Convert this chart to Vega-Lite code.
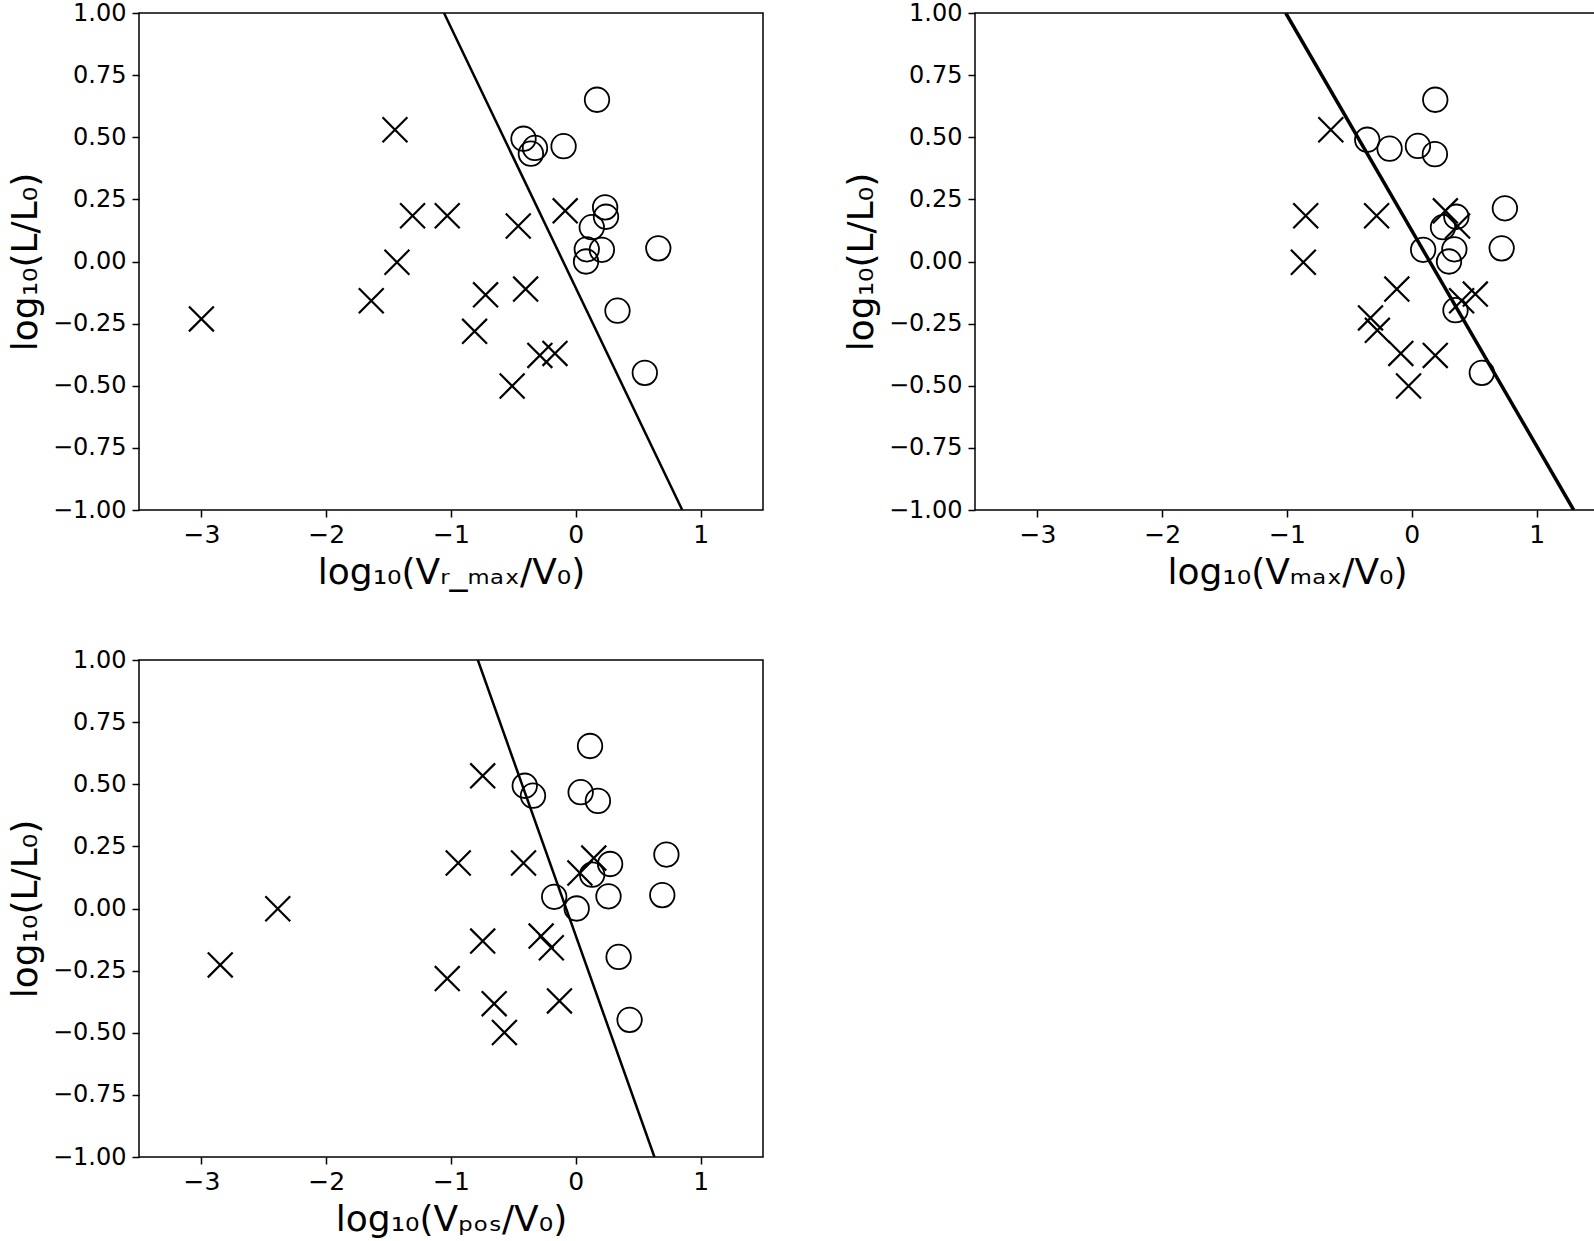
{
  "$schema": "https://vega.github.io/schema/vega-lite/v6.json",
  "padding": {"left": 6, "top": 0, "right": 0, "bottom": 0},
  "background": "white",
  "config": {
    "view": {"stroke": "black", "strokeWidth": 1.5},
    "axis": {
      "labelFont": "DejaVu Sans", "labelFontSize": 25, "labelColor": "black",
      "titleFont": "DejaVu Sans", "titleFontSize": 36, "titleFontWeight": "normal", "titleColor": "black",
      "tickColor": "black", "tickSize": 7, "tickWidth": 1.5, "domain": false, "grid": false, "labelOverlap": false
    },
    "axisX": {"labelPadding": 5, "titlePadding": 8},
    "axisY": {"labelPadding": 6, "titlePadding": 8, "labelFontSize": 24}
  },
  "datasets": {
    "pts": [
      {"p": "A", "t": "x", "x": -3.0, "y": -0.231},
      {"p": "A", "t": "x", "x": -1.449, "y": 0.53},
      {"p": "A", "t": "x", "x": -1.308, "y": 0.184},
      {"p": "A", "t": "x", "x": -1.03, "y": 0.184},
      {"p": "A", "t": "x", "x": -1.433, "y": -0.003},
      {"p": "A", "t": "x", "x": -1.639, "y": -0.158},
      {"p": "A", "t": "x", "x": -0.461, "y": 0.143},
      {"p": "A", "t": "x", "x": -0.723, "y": -0.134},
      {"p": "A", "t": "x", "x": -0.402, "y": -0.111},
      {"p": "A", "t": "x", "x": -0.811, "y": -0.281},
      {"p": "A", "t": "x", "x": -0.288, "y": -0.378},
      {"p": "A", "t": "x", "x": -0.167, "y": -0.37},
      {"p": "A", "t": "x", "x": -0.51, "y": -0.501},
      {"p": "A", "t": "x", "x": -0.085, "y": 0.204},
      {"p": "A", "t": "o", "x": 0.17, "y": 0.651},
      {"p": "A", "t": "o", "x": -0.419, "y": 0.494},
      {"p": "A", "t": "o", "x": -0.327, "y": 0.457},
      {"p": "A", "t": "o", "x": -0.36, "y": 0.434},
      {"p": "A", "t": "o", "x": -0.098, "y": 0.464},
      {"p": "A", "t": "o", "x": 0.235, "y": 0.218},
      {"p": "A", "t": "o", "x": 0.242, "y": 0.18},
      {"p": "A", "t": "o", "x": 0.128, "y": 0.138},
      {"p": "A", "t": "o", "x": 0.088, "y": 0.049},
      {"p": "A", "t": "o", "x": 0.209, "y": 0.047},
      {"p": "A", "t": "o", "x": 0.082, "y": 0.0},
      {"p": "A", "t": "o", "x": 0.661, "y": 0.053},
      {"p": "A", "t": "o", "x": 0.334, "y": -0.198},
      {"p": "A", "t": "o", "x": 0.553, "y": -0.448},
      {"p": "B", "t": "x", "x": -0.649, "y": 0.53},
      {"p": "B", "t": "x", "x": -0.85, "y": 0.184},
      {"p": "B", "t": "x", "x": -0.282, "y": 0.184},
      {"p": "B", "t": "x", "x": -0.869, "y": -0.003},
      {"p": "B", "t": "x", "x": 0.269, "y": 0.204},
      {"p": "B", "t": "x", "x": 0.367, "y": 0.143},
      {"p": "B", "t": "x", "x": -0.12, "y": -0.111},
      {"p": "B", "t": "x", "x": 0.509, "y": -0.131},
      {"p": "B", "t": "x", "x": 0.399, "y": -0.158},
      {"p": "B", "t": "x", "x": -0.331, "y": -0.227},
      {"p": "B", "t": "x", "x": -0.276, "y": -0.277},
      {"p": "B", "t": "x", "x": -0.088, "y": -0.37},
      {"p": "B", "t": "x", "x": 0.188, "y": -0.378},
      {"p": "B", "t": "x", "x": -0.026, "y": -0.501},
      {"p": "B", "t": "o", "x": 0.188, "y": 0.651},
      {"p": "B", "t": "o", "x": -0.357, "y": 0.49},
      {"p": "B", "t": "o", "x": -0.178, "y": 0.454},
      {"p": "B", "t": "o", "x": 0.049, "y": 0.465},
      {"p": "B", "t": "o", "x": 0.185, "y": 0.432},
      {"p": "B", "t": "o", "x": 0.746, "y": 0.214},
      {"p": "B", "t": "o", "x": 0.357, "y": 0.18},
      {"p": "B", "t": "o", "x": 0.25, "y": 0.138},
      {"p": "B", "t": "o", "x": 0.091, "y": 0.047},
      {"p": "B", "t": "o", "x": 0.341, "y": 0.049},
      {"p": "B", "t": "o", "x": 0.298, "y": 0.0},
      {"p": "B", "t": "o", "x": 0.72, "y": 0.053},
      {"p": "B", "t": "o", "x": 0.35, "y": -0.196},
      {"p": "B", "t": "o", "x": 0.561, "y": -0.448},
      {"p": "C", "t": "x", "x": -2.849, "y": -0.227},
      {"p": "C", "t": "x", "x": -2.388, "y": -0.001},
      {"p": "C", "t": "x", "x": -0.746, "y": 0.534},
      {"p": "C", "t": "x", "x": -0.942, "y": 0.183},
      {"p": "C", "t": "x", "x": -0.419, "y": 0.183},
      {"p": "C", "t": "x", "x": -0.746, "y": -0.131},
      {"p": "C", "t": "x", "x": -0.278, "y": -0.111},
      {"p": "C", "t": "x", "x": -0.196, "y": -0.158},
      {"p": "C", "t": "x", "x": -1.03, "y": -0.282},
      {"p": "C", "t": "x", "x": -0.654, "y": -0.383},
      {"p": "C", "t": "x", "x": -0.131, "y": -0.372},
      {"p": "C", "t": "x", "x": -0.572, "y": -0.499},
      {"p": "C", "t": "x", "x": 0.144, "y": 0.203},
      {"p": "C", "t": "x", "x": 0.033, "y": 0.143},
      {"p": "C", "t": "o", "x": 0.114, "y": 0.654},
      {"p": "C", "t": "o", "x": -0.409, "y": 0.494},
      {"p": "C", "t": "o", "x": -0.343, "y": 0.454},
      {"p": "C", "t": "o", "x": 0.039, "y": 0.468},
      {"p": "C", "t": "o", "x": 0.177, "y": 0.433},
      {"p": "C", "t": "o", "x": 0.726, "y": 0.217},
      {"p": "C", "t": "o", "x": 0.275, "y": 0.179},
      {"p": "C", "t": "o", "x": 0.131, "y": 0.136},
      {"p": "C", "t": "o", "x": -0.173, "y": 0.047},
      {"p": "C", "t": "o", "x": 0.262, "y": 0.049},
      {"p": "C", "t": "o", "x": 0.007, "y": 0.0},
      {"p": "C", "t": "o", "x": 0.693, "y": 0.054},
      {"p": "C", "t": "o", "x": 0.343, "y": -0.195},
      {"p": "C", "t": "o", "x": 0.431, "y": -0.448}
    ],
    "lines": [
      {"p": "A", "x": -1.056, "y": 1.0},
      {"p": "A", "x": 0.853, "y": -1.0},
      {"p": "B", "x": -1.01, "y": 1.0},
      {"p": "B", "x": 1.297, "y": -1.0},
      {"p": "C", "x": -0.785, "y": 1.0},
      {"p": "C", "x": 0.63, "y": -1.0}
    ]
  },
  "columns": 2,
  "spacing": {"row": 150, "column": 212},
  "bounds": "flush",
  "concat": [
    {
      "width": 624, "height": 497,
      "encoding": {
        "x": {"field": "x", "type": "quantitative", "scale": {"domain": [-3.5, 1.5], "nice": false, "zero": false},
              "axis": {"values": [-3, -2, -1, 0, 1], "format": "d", "title": "log₁₀(Vᵣ_ₘₐₓ/V₀)"}},
        "y": {"field": "y", "type": "quantitative", "scale": {"domain": [-1, 1], "nice": false, "zero": false},
              "axis": {"values": [-1, -0.75, -0.5, -0.25, 0, 0.25, 0.5, 0.75, 1], "format": ".2f", "title": "log₁₀(L/L₀)"}}
      },
      "layer": [
        {"data": {"name": "lines"}, "transform": [{"filter": "datum.p == 'A'"}],
         "mark": {"type": "line", "stroke": "black", "strokeWidth": 2.5, "clip": true}},
        {"data": {"name": "pts"}, "transform": [{"filter": "datum.p == 'A' && datum.t == 'o'"}],
         "mark": {"type": "point", "shape": "circle", "filled": false, "size": 600, "stroke": "black", "strokeWidth": 1.8, "opacity": 1}},
        {"data": {"name": "pts"}, "transform": [{"filter": "datum.p == 'A' && datum.t == 'x'"}],
         "mark": {"type": "point", "shape": "M-1,-1L1,1M-1,1L1,-1", "filled": false, "size": 620, "stroke": "black", "strokeWidth": 2.2, "opacity": 1}}
      ]
    },
    {
      "width": 624, "height": 497,
      "encoding": {
        "x": {"field": "x", "type": "quantitative", "scale": {"domain": [-3.5, 1.5], "nice": false, "zero": false},
              "axis": {"values": [-3, -2, -1, 0, 1], "format": "d", "title": "log₁₀(Vₘₐₓ/V₀)"}},
        "y": {"field": "y", "type": "quantitative", "scale": {"domain": [-1, 1], "nice": false, "zero": false},
              "axis": {"values": [-1, -0.75, -0.5, -0.25, 0, 0.25, 0.5, 0.75, 1], "format": ".2f", "title": "log₁₀(L/L₀)"}}
      },
      "layer": [
        {"data": {"name": "lines"}, "transform": [{"filter": "datum.p == 'B'"}],
         "mark": {"type": "line", "stroke": "black", "strokeWidth": 3.5, "clip": true}},
        {"data": {"name": "pts"}, "transform": [{"filter": "datum.p == 'B' && datum.t == 'o'"}],
         "mark": {"type": "point", "shape": "circle", "filled": false, "size": 600, "stroke": "black", "strokeWidth": 1.8, "opacity": 1}},
        {"data": {"name": "pts"}, "transform": [{"filter": "datum.p == 'B' && datum.t == 'x'"}],
         "mark": {"type": "point", "shape": "M-1,-1L1,1M-1,1L1,-1", "filled": false, "size": 620, "stroke": "black", "strokeWidth": 2.2, "opacity": 1}}
      ]
    },
    {
      "width": 624, "height": 497,
      "encoding": {
        "x": {"field": "x", "type": "quantitative", "scale": {"domain": [-3.5, 1.5], "nice": false, "zero": false},
              "axis": {"values": [-3, -2, -1, 0, 1], "format": "d", "title": "log₁₀(Vₚₒₛ/V₀)"}},
        "y": {"field": "y", "type": "quantitative", "scale": {"domain": [-1, 1], "nice": false, "zero": false},
              "axis": {"values": [-1, -0.75, -0.5, -0.25, 0, 0.25, 0.5, 0.75, 1], "format": ".2f", "title": "log₁₀(L/L₀)"}}
      },
      "layer": [
        {"data": {"name": "lines"}, "transform": [{"filter": "datum.p == 'C'"}],
         "mark": {"type": "line", "stroke": "black", "strokeWidth": 2.5, "clip": true}},
        {"data": {"name": "pts"}, "transform": [{"filter": "datum.p == 'C' && datum.t == 'o'"}],
         "mark": {"type": "point", "shape": "circle", "filled": false, "size": 600, "stroke": "black", "strokeWidth": 1.8, "opacity": 1}},
        {"data": {"name": "pts"}, "transform": [{"filter": "datum.p == 'C' && datum.t == 'x'"}],
         "mark": {"type": "point", "shape": "M-1,-1L1,1M-1,1L1,-1", "filled": false, "size": 620, "stroke": "black", "strokeWidth": 2.2, "opacity": 1}}
      ]
    }
  ]
}
